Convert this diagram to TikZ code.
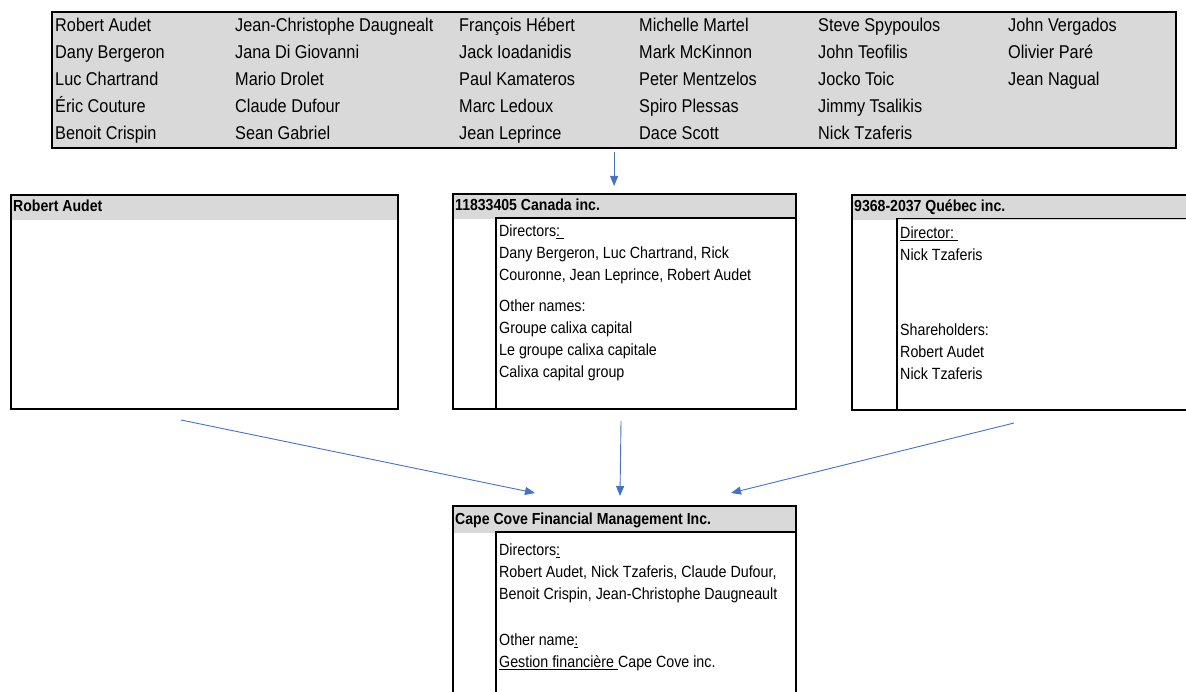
\documentclass[tikz,border=0pt]{standalone}
\usepackage{fontspec}
\setmainfont{Liberation Sans}[FakeStretch=0.88]
\usepackage{tikz}
\usetikzlibrary{arrows.meta, positioning}
\definecolor{hdrgray}{HTML}{D9D9D9}
\definecolor{linkblue}{HTML}{4472C4}

\begin{document}
\begin{tikzpicture}[
    x=1pt, y=-1pt,
    rosterbox/.style={draw=black, line width=2.2pt, fill=hdrgray, anchor=north west, inner sep=0pt, minimum width=1124pt, minimum height=136pt},
    entity/.style={draw=black, line width=2pt, fill=white, anchor=north west, inner sep=0pt, minimum width=343pt, minimum height=215pt,
      path picture={\fill[hdrgray] (path picture bounding box.north west) rectangle ([yshift=-#1]path picture bounding box.north east);}},
    entity/.default=25pt,
    panel/.style={draw=black, line width=1.8pt},
    person/.style={anchor=base west, inner sep=0pt, font=\fontsize{18.5pt}{21pt}\selectfont},
    hdr/.style={anchor=base west, inner sep=0pt, font=\fontsize{16pt}{22pt}\selectfont\bfseries},
    info/.style={anchor=north west, inner sep=0pt, align=left, font=\fontsize{16.2pt}{22pt}\selectfont},
    link/.style={-{Triangle[length=10pt, width=8pt]}, draw=linkblue, line width=0.9pt},
  ]
  \useasboundingbox (0,0) rectangle (1186,692);

  % list of people
  \node[rosterbox] (roster) at (51,11) {};
  \foreach \cx/\col [count=\c] in {
      55/{Robert Audet, Dany Bergeron, Luc Chartrand, Éric Couture, Benoit Crispin},
      235/{Jean-Christophe Daugnealt, Jana Di Giovanni, Mario Drolet, Claude Dufour, Sean Gabriel},
      459/{François Hébert, Jack Ioadanidis, Paul Kamateros, Marc Ledoux, Jean Leprince},
      639/{Michelle Martel, Mark McKinnon, Peter Mentzelos, Spiro Plessas, Dace Scott},
      818/{Steve Spypoulos, John Teofilis, Jocko Toic, Jimmy Tsalikis, Nick Tzaferis},
      1008/{John Vergados, Olivier Paré, Jean Nagual}}
    \foreach \who [count=\r from 0] in \col
      \node[person] (who-\c-\r) at (\cx, 31.5+27*\r) {\who};

  % companies
  \node[entity, minimum width=387pt, minimum height=214pt] (audet) at (10,194) {};
  \node[entity] (canada) at (452,193) {};
  \node[entity, minimum width=345pt] (quebec) at (851,194) {};
  \node[entity=27pt, minimum height=190pt] (capecove) at (452,505) {};

  \draw[panel] ([xshift=44pt]canada.south west) |- ([yshift=-25pt]canada.north east);
  \draw[panel] ([xshift=46pt]quebec.south west) |- ([yshift=-24.5pt]quebec.north east);
  \draw[panel] ([xshift=44pt]capecove.south west) |- ([yshift=-27pt]capecove.north east);

  \node[hdr] (audet-h) at ([shift={(3,18)}]audet.north west) {Robert Audet};
  \node[hdr] (canada-h) at ([shift={(3,18)}]canada.north west) {11833405 Canada inc.};
  \node[hdr] (quebec-h) at ([shift={(3,18)}]quebec.north west) {9368-2037 Québec inc.};
  \node[hdr] (capecove-h) at ([shift={(3,19.5)}]capecove.north west) {Cape Cove Financial Management Inc.};

  \node[info] (canada-dir) at ([shift={(47,32)}]canada.north west)
    {Directors\underline{:\ }\\Dany Bergeron, Luc Chartrand, Rick\\Couronne, Jean Leprince, Robert Audet};
  \node[info] (canada-alt) at ([shift={(47,107)}]canada.north west)
    {Other names:\\Groupe calixa capital\\Le groupe calixa capitale\\Calixa capital group};
  \node[info] (quebec-dir) at ([shift={(49,33)}]quebec.north west)
    {\underline{Director:\ }\\Nick Tzaferis};
  \node[info] (quebec-own) at ([shift={(49,130)}]quebec.north west)
    {Shareholders:\\Robert Audet\\Nick Tzaferis};
  \node[info] (capecove-dir) at ([shift={(47,39)}]capecove.north west)
    {Directors\underline{:}\\Robert Audet, Nick Tzaferis, Claude Dufour,\\Benoit Crispin, Jean-Christophe Daugneault};
  \node[info] (capecove-alt) at ([shift={(47,129)}]capecove.north west)
    {Other name\underline{:}\\\underline{Gestion financière\ }Cape Cove inc.};

  % connectors
  \coordinate (audet-out) at ([shift={(-23.5,10)}]audet.south);
  \coordinate (canada-out) at ([shift={(-3.5,11)}]canada.south);
  \coordinate (quebec-out) at ([shift={(-10.5,12)}]quebec.south);
  \coordinate (cape-l) at ([shift={(83,-12)}]capecove.north west);
  \coordinate (cape-m) at ([shift={(168,-9)}]capecove.north west);
  \coordinate (cape-r) at ([shift={(279,-12)}]capecove.north west);

  \draw[link, shorten <=3pt, shorten >=7pt] (roster.south) -- (roster.south |- canada.north);
  \draw[link] (audet-out) -- (cape-l);
  \draw[link] (canada-out) -- (cape-m);
  \draw[link] (quebec-out) -- (cape-r);

\end{tikzpicture}
\end{document}
